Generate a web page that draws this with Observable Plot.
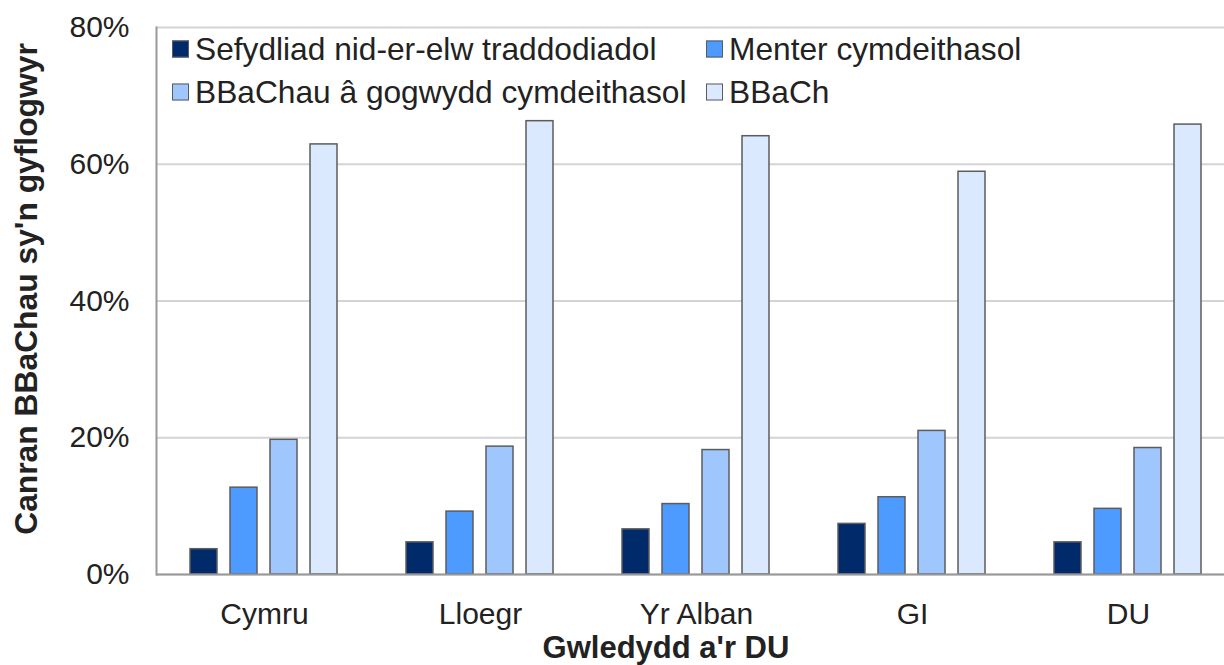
<!DOCTYPE html>
<html>
<head>
<meta charset="utf-8">
<script src="https://cdn.jsdelivr.net/npm/d3@7"></script>
<script src="https://cdn.jsdelivr.net/npm/@observablehq/plot@0.6"></script>
<style>
  html, body { margin: 0; padding: 0; background: #fff; overflow: hidden; }
  #wrap { position: relative; width: 1224px; height: 665px; overflow: hidden; font-family: "Liberation Sans", Arial, sans-serif; color: #222; }
  #chart { position: absolute; left: 0; top: 0; width: 1240px; }
  #chart svg { max-width: none !important; }
  .legend-item { position: absolute; display: flex; align-items: center; font-size: 31.7px; white-space: nowrap; transform: translateY(-50%); }
  .swatch { width: 17px; height: 17px; box-sizing: border-box; border: 1.5px solid #5c5c5c; margin-right: 6px; }
  .title { position: absolute; font-weight: bold; font-size: 31px; white-space: nowrap; transform: translate(-50%, -50%); }
  #ytitle { font-size: 31.8px; transform: translate(-50%, -50%) rotate(-90deg); }
</style>
</head>
<body>
<div id="wrap">
  <div id="chart"></div>
  <div id="legend"></div>
  <div class="title" id="xtitle" style="left:666px; top:648px;"></div>
  <div class="title" id="ytitle" style="left:26px; top:289px;"></div>
</div>
<script>
const countries = ["Cymru", "Lloegr", "Yr Alban", "GI", "DU"];
const seriesNames = [
  "Sefydliad nid-er-elw traddodiadol",
  "Menter cymdeithasol",
  "BBaChau â gogwydd cymdeithasol",
  "BBaCh"
];
const traditional = [3.7, 4.7, 6.6, 7.4, 4.7];
const socialEnterprise = [12.7, 9.2, 10.3, 11.3, 9.6];
const socialSme = [19.7, 18.7, 18.2, 21.0, 18.5];
const sme = [62.9, 66.3, 64.1, 58.9, 65.8];
const yTicks = [0, 20, 40, 60, 80];
const colors = ["#002a6a", "#4d9bff", "#9fc6fd", "#dbe9fe"];
const xTitle = "Gwledydd a'r DU";
const yTitle = "Canran BBaChau sy'n gyflogwyr";

const seriesValues = [traditional, socialEnterprise, socialSme, sme];
const data = countries.flatMap((c, i) =>
  seriesNames.map((s, j) => ({ country: c, series: s, value: seriesValues[j][i] }))
);

const chart = Plot.plot({
  width: 1240,
  height: 665,
  marginLeft: 155,
  marginRight: 3,
  marginTop: 27,
  marginBottom: 91,
  style: { fontFamily: "'Liberation Sans', Arial, sans-serif", fontSize: "30px", color: "#222", background: "white", maxWidth: "none" },
  fx: { domain: countries, padding: 0, label: null },
  x: { domain: seriesNames, paddingInner: 0.321, paddingOuter: 0.832, axis: null },
  y: { domain: [0, 80], label: null },
  color: { domain: seriesNames, range: colors },
  marks: [
    Plot.gridY(yTicks, { stroke: "#d4d4d4", strokeOpacity: 1, strokeWidth: 2 }),
    Plot.barY(data, { fx: "country", x: "series", y: "value", fill: "series", stroke: "#5c5c5c", strokeWidth: 1.5 }),
    Plot.ruleY([0], { stroke: "#999", strokeWidth: 2 }),
    Plot.frame({ anchor: "left", facetAnchor: "left", stroke: "#999", strokeWidth: 2 }),
    Plot.axisY(yTicks, { tickFormat: d => d + "%", tickSize: 0, tickPadding: 27, label: null, fontSize: 30 }),
    Plot.axisFx({ anchor: "bottom", tickSize: 0, tickPadding: 28, label: null, fontSize: 30 })
  ]
});
chart.style.maxWidth = "none";
document.getElementById("chart").appendChild(chart);

// legend (two columns, two rows, inside the plot area)
const legendPos = [
  { left: 172, top: 49 },
  { left: 706, top: 49 },
  { left: 172, top: 92 },
  { left: 706, top: 92 }
];
const legend = document.getElementById("legend");
seriesNames.forEach((s, i) => {
  const item = document.createElement("div");
  item.className = "legend-item";
  item.style.left = legendPos[i].left + "px";
  item.style.top = legendPos[i].top + "px";
  const sw = document.createElement("div");
  sw.className = "swatch";
  sw.style.background = colors[i];
  const tx = document.createElement("span");
  tx.textContent = s;
  item.appendChild(sw);
  item.appendChild(tx);
  legend.appendChild(item);
});
document.getElementById("xtitle").textContent = xTitle;
document.getElementById("ytitle").textContent = yTitle;
</script>
</body>
</html>
